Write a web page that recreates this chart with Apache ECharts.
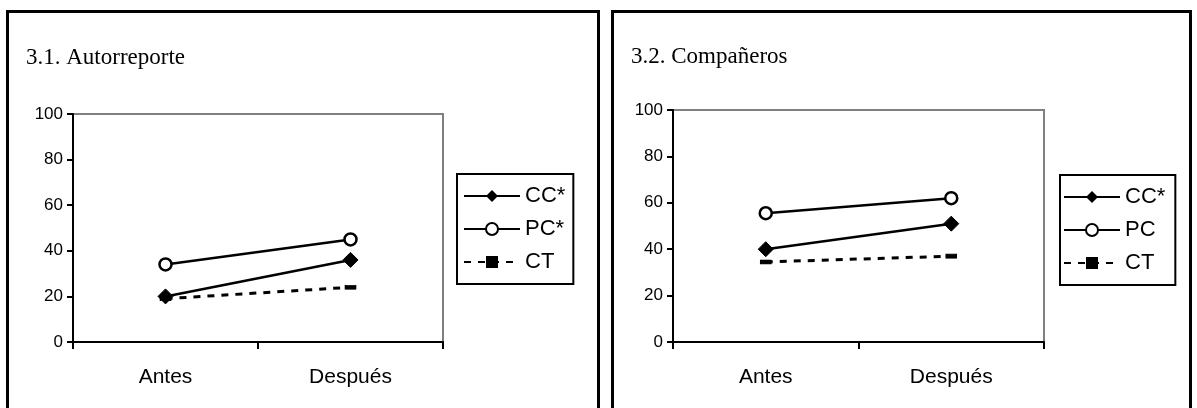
<!DOCTYPE html>
<html>
<head>
<meta charset="utf-8">
<script src="https://cdn.jsdelivr.net/npm/echarts@6/dist/echarts.min.js"></script>
<style>
  html, body { margin: 0; padding: 0; background: #fff; }
  #chart { width: 1197px; height: 408px; }
</style>
</head>
<body>
<div id="chart"></div>
<script>
// Measurement moments (shared by both panels)
var categories = ['Antes', 'Después'];

// Panel titles
var titles = ['3.1. Autorreporte', '3.2. Compañeros'];

// 3.1 Autorreporte
var autoCC = [20, 36];
var autoPC = [34, 45];
var autoCT = [19, 24];
var autoNames = ['CC*', 'PC*', 'CT'];

// 3.2 Compañeros
var compCC = [40, 51];
var compPC = [55.5, 62];
var compCT = [34.5, 37];
var compNames = ['CC*', 'PC', 'CT'];

// Y axis scale
var yMin = 0, yMax = 100, yStep = 20;

var sansFont = '"Liberation Sans", Arial, sans-serif';
var serifFont = '"Liberation Serif", "Times New Roman", serif';

function seriesFor(gridIdx, names, cc, pc, ct) {
  return [
    {
      name: names[0], type: 'line', xAxisIndex: gridIdx, yAxisIndex: gridIdx,
      data: cc, symbol: 'diamond', symbolSize: 15,
      lineStyle: { color: '#000', width: 2.5 },
      itemStyle: { color: '#000', borderColor: '#000' },
      animation: false
    },
    {
      name: names[1], type: 'line', xAxisIndex: gridIdx, yAxisIndex: gridIdx,
      data: pc, symbol: 'circle', symbolSize: 12,
      lineStyle: { color: '#000', width: 2.5 },
      itemStyle: { color: '#fff', borderColor: '#000', borderWidth: 2.5 },
      animation: false
    },
    {
      name: names[2], type: 'line', xAxisIndex: gridIdx, yAxisIndex: gridIdx,
      data: ct, symbol: 'rect', symbolSize: [10, 4],
      lineStyle: { color: '#000', width: 3, type: [7, 7] },
      itemStyle: { color: '#000', borderColor: '#000' },
      animation: false
    }
  ];
}

function xAxisFor(gridIdx) {
  return {
    type: 'category', gridIndex: gridIdx, data: categories, boundaryGap: true,
    axisLine: { lineStyle: { color: '#000', width: 2 } },
    axisTick: { show: true, length: 7, lineStyle: { color: '#000', width: 2 } },
    axisLabel: { color: '#000', fontFamily: sansFont, fontSize: 21, margin: 25 },
    splitLine: { show: false }
  };
}

function yAxisFor(gridIdx) {
  return {
    type: 'value', gridIndex: gridIdx, min: yMin, max: yMax, interval: yStep,
    axisLine: { show: true, lineStyle: { color: '#000', width: 2 } },
    axisTick: { show: true, length: 6, lineStyle: { color: '#000', width: 2 } },
    axisLabel: { color: '#000', fontFamily: sansFont, fontSize: 17, margin: 10 },
    splitLine: { show: false }
  };
}

function legendFor(names, left, top, padding) {
  return {
    data: names, orient: 'vertical', left: left, top: top,
    itemWidth: 56, itemHeight: 15, itemGap: 11,
    padding: padding,
    borderColor: '#000', borderWidth: 2, borderRadius: 0,
    backgroundColor: '#fff',
    textStyle: { color: '#000', fontFamily: sansFont, fontSize: 22 },
    selectedMode: false
  };
}

var chart = echarts.init(document.getElementById('chart'), null, { renderer: 'canvas' });

chart.setOption({
  backgroundColor: '#fff',
  animation: false,
  title: [
    { text: titles[0], left: 26, top: 46, padding: 0,
      textStyle: { fontFamily: serifFont, fontWeight: 'normal', fontSize: 23, color: '#000' } },
    { text: titles[1], left: 631, top: 45, padding: 0,
      textStyle: { fontFamily: serifFont, fontWeight: 'normal', fontSize: 23, color: '#000' } }
  ],
  grid: [
    { left: 73, top: 114, width: 370, height: 228, show: true,
      borderColor: '#808080', borderWidth: 2, backgroundColor: 'transparent' },
    { left: 673, top: 110, width: 371, height: 232, show: true,
      borderColor: '#808080', borderWidth: 2, backgroundColor: 'transparent' }
  ],
  xAxis: [xAxisFor(0), xAxisFor(1)],
  yAxis: [yAxisFor(0), yAxisFor(1)],
  legend: [
    legendFor(autoNames, 457, 174, [11, 8, 11, 6]),
    legendFor(compNames, 1060, 175, [11, 10, 11, 3])
  ],
  series: seriesFor(0, autoNames, autoCC, autoPC, autoCT)
    .concat(seriesFor(1, compNames, compCC, compPC, compCT)),
  graphic: [
    // Panel frames
    { type: 'rect', shape: { x: 7.5, y: 11.5, width: 591, height: 420 },
      style: { fill: 'none', stroke: '#000', lineWidth: 3 }, silent: true },
    { type: 'rect', shape: { x: 612.5, y: 11.5, width: 578, height: 420 },
      style: { fill: 'none', stroke: '#000', lineWidth: 3 }, silent: true }
  ]
});
</script>
</body>
</html>
